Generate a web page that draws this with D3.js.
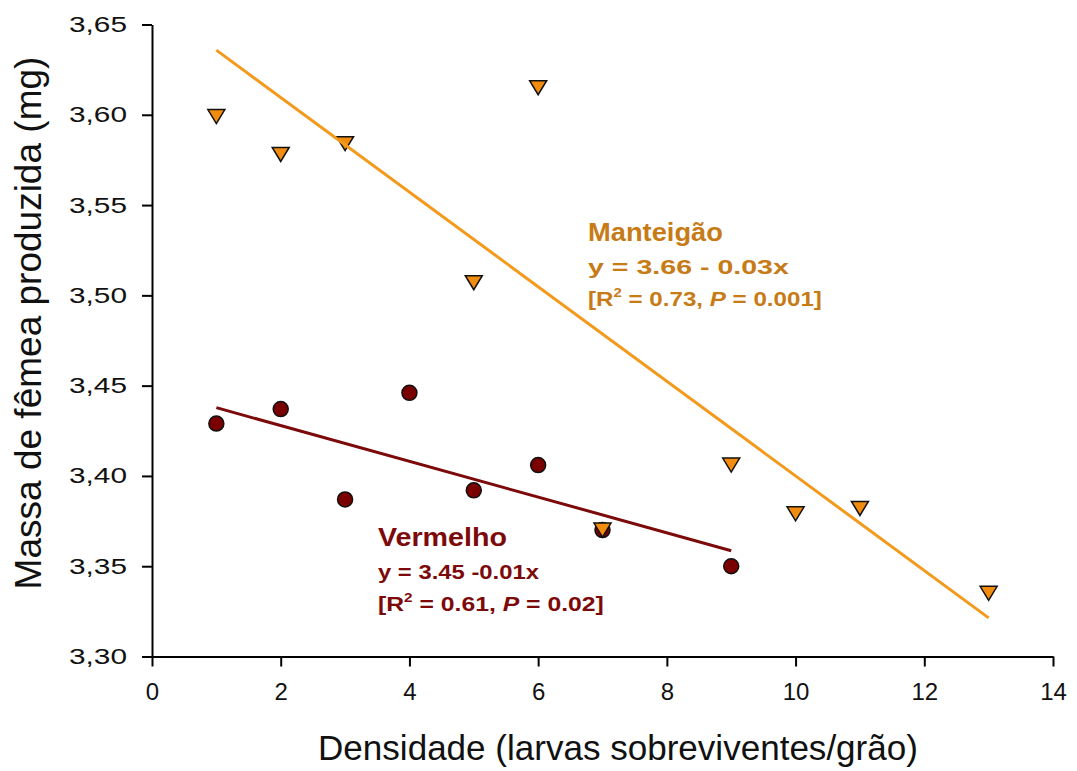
<!DOCTYPE html>
<html>
<head>
<meta charset="utf-8">
<script src="https://cdn.jsdelivr.net/npm/d3@7"></script>
<style>
  body { margin: 0; background: #ffffff; }
  svg text { font-family: "Liberation Sans", Arial, sans-serif; }
</style>
</head>
<body>
<svg id="chart" width="1077" height="771"></svg>
<script>
// Densidade (larvas sobreviventes por grão) e massa média das fêmeas (mg)
const manteigaoX = [1, 2, 3, 5, 6, 7, 9, 10, 11, 13];
const manteigaoY = [3.599, 3.578, 3.584, 3.507, 3.615, 3.370, 3.406, 3.379, 3.382, 3.335];
const vermelhoX = [1, 2, 3, 4, 5, 6, 7, 9];
const vermelhoY = [3.429, 3.437, 3.387, 3.446, 3.392, 3.406, 3.370, 3.350];

// Retas de regressão (intercepto, inclinação, intervalo de x)
const manteigaoFit = [3.662, -0.0262];
const manteigaoRange = [1, 13];
const vermelhoFit = [3.4477, -0.0099];
const vermelhoRange = [1, 9];

const xTicks = [0, 2, 4, 6, 8, 10, 12, 14];
const yTicks = [3.30, 3.35, 3.40, 3.45, 3.50, 3.55, 3.60, 3.65];

const svg = d3.select("#chart");
const plotLeft = 152, plotRight = 1053, plotTop = 24.5, plotBottom = 656.5;

const x = d3.scaleLinear().domain([0, 14]).range([plotLeft, plotRight]);
const y = d3.scaleLinear().domain([3.30, 3.65]).range([plotBottom, plotTop]);

const orangeLine = "#f39a1c";
const orangeFill = "#f28c0f";
const orangeText = "#c77b16";
const darkRed = "#7d0a0a";

// Estica um texto na horizontal até a largura desejada, mantendo o ponto de ancoragem
function stretchTo(textSel, width, baseTransform) {
  const node = textSel.node();
  const natural = node.getComputedTextLength();
  const sx = width / natural;
  textSel.attr("transform", `${baseTransform || ""} scale(${sx},1)`);
}

// Eixos
const yAxis = d3.axisLeft(y)
  .tickValues(yTicks)
  .tickSize(10)
  .tickSizeOuter(0)
  .tickFormat(d => d.toFixed(2).replace(".", ","));
const xAxis = d3.axisBottom(x)
  .tickValues(xTicks)
  .tickSize(10)
  .tickSizeOuter(0)
  .tickPadding(16)
  .tickFormat(d => String(d));

const gy = svg.append("g").attr("transform", `translate(${plotLeft},0)`).call(yAxis);
const gx = svg.append("g").attr("transform", `translate(0,${plotBottom})`).call(xAxis);
[gx, gy].forEach(g => {
  g.selectAll("path, line").attr("stroke", "#000").attr("stroke-width", 2);
  g.selectAll("text").attr("fill", "#111");
});
gx.selectAll("text").style("font-size", "24px");
gy.selectAll("text")
  .style("font-size", "22px")
  .attr("x", 0)
  .each(function () { stretchTo(d3.select(this), 58, "translate(-25,0)"); });

// Títulos dos eixos
const xTitle = svg.append("text")
  .attr("text-anchor", "middle")
  .style("font-size", "35px")
  .attr("fill", "#111")
  .text("Densidade (larvas sobreviventes/grão)");
stretchTo(xTitle, 600, "translate(618,760)");

const yTitle = svg.append("text")
  .attr("text-anchor", "middle")
  .style("font-size", "36px")
  .attr("fill", "#111")
  .text("Massa de fêmea produzida (mg)");
stretchTo(yTitle, 533, "translate(41,323) rotate(-90)");

// Pontos: Vermelho (círculos)
svg.append("g").selectAll("circle")
  .data(vermelhoX.map((d, i) => [d, vermelhoY[i]]))
  .join("circle")
  .attr("cx", d => x(d[0]))
  .attr("cy", d => y(d[1]))
  .attr("r", 7.5)
  .attr("fill", "#7a0000")
  .attr("stroke", "#111")
  .attr("stroke-width", 1.5);

// Pontos: Manteigão (triângulos invertidos)
const tri = "M-8.5,-7L8.5,-7L0,7Z";
svg.append("g").selectAll("path")
  .data(manteigaoX.map((d, i) => [d, manteigaoY[i]]))
  .join("path")
  .attr("d", tri)
  .attr("transform", d => `translate(${x(d[0])},${y(d[1])})`)
  .attr("fill", orangeFill)
  .attr("stroke", "#111")
  .attr("stroke-width", 1.5)
  .attr("stroke-linejoin", "miter");

// Retas ajustadas
const line = d3.line().x(d => x(d[0])).y(d => y(d[1]));
function fitPoints(fit, range) {
  return range.map(v => [v, fit[0] + fit[1] * v]);
}
svg.append("path")
  .datum(fitPoints(manteigaoFit, manteigaoRange))
  .attr("d", line)
  .attr("fill", "none")
  .attr("stroke", orangeLine)
  .attr("stroke-width", 3);
svg.append("path")
  .datum(fitPoints(vermelhoFit, vermelhoRange))
  .attr("d", line)
  .attr("fill", "none")
  .attr("stroke", darkRed)
  .attr("stroke-width", 3);

// Anotações: nome, equação e estatísticas de cada cultivar
function annotate(x0, y0, color, name, eq, r2, p, widths) {
  const g = svg.append("g").attr("fill", color).style("font-weight", "bold");
  const t1 = g.append("text").style("font-size", "25px").text(name);
  stretchTo(t1, widths[0], `translate(${x0},${y0})`);
  const t2 = g.append("text").style("font-size", "21px").text(eq);
  stretchTo(t2, widths[1], `translate(${x0},${y0 + 33})`);
  const t3 = g.append("text").style("font-size", "21px");
  t3.append("tspan").text("[R");
  t3.append("tspan").attr("dy", -9).style("font-size", "13px").text("2");
  t3.append("tspan").attr("dy", 9).text(" = " + r2 + ", ");
  t3.append("tspan").style("font-style", "italic").text("P");
  t3.append("tspan").text(" = " + p + "]");
  stretchTo(t3, widths[2], `translate(${x0},${y0 + 65})`);
}
annotate(588, 241, orangeText, "Manteigão", "y = 3.66 - 0.03x", "0.73", "0.001", [135, 201, 234]);
annotate(378, 546, darkRed, "Vermelho", "y = 3.45 -0.01x", "0.61", "0.02", [129, 161, 226]);
</script>
</body>
</html>
